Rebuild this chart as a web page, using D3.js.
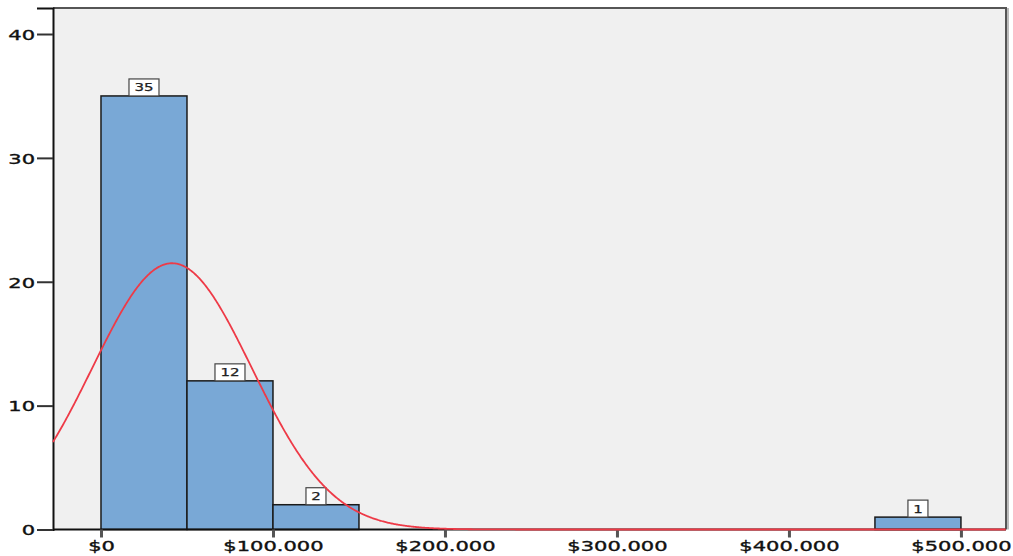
<!DOCTYPE html>
<html><head><meta charset="utf-8">
<script src="https://cdn.jsdelivr.net/npm/d3@7"></script>
<style>body{margin:0;background:#fff}svg{display:block}</style>
</head><body>
<svg id="c" width="1013" height="556"></svg>
<script>
// Data
const binStarts = [0, 50000, 100000, 450000];
const binCounts = [35, 12, 2, 1];
const binWidth = 50000;
const xTickValues = [0, 100000, 200000, 300000, 400000, 500000];
const yTickValues = [0, 10, 20, 30, 40];
const curveMean = 41300;
const curveSD = 46400;
const totalN = 50;

const svg = d3.select('#c');
const L = 53, R = 1006, T = 8, B = 529.5;
const x = d3.scaleLinear().domain([-27900, 526200]).range([L, R]);
const y = d3.scaleLinear().domain([0, 42.1]).range([B, T]);

const loc = d3.formatLocale({decimal: ",", thousands: ".", grouping: [3], currency: ["$", ""]});
const fmt = loc.format("$,.0f");

// plot background
svg.append('rect').attr('x', L).attr('y', T).attr('width', R - L).attr('height', B - T).attr('fill', '#f0f0f0');
// frame top and right
svg.append('line').attr('x1', L).attr('x2', R + 1).attr('y1', T).attr('y2', T).attr('stroke', '#555').attr('stroke-width', 2);
svg.append('line').attr('x1', R + 2).attr('x2', R + 2).attr('y1', T).attr('y2', B).attr('stroke', '#bbb').attr('stroke-width', 2);
svg.append('line').attr('x1', R).attr('x2', R).attr('y1', T).attr('y2', B).attr('stroke', '#555').attr('stroke-width', 2);

function stretch(sel, f) {
  sel.each(function () {
    const len = this.getComputedTextLength();
    d3.select(this).attr('textLength', len * f).attr('lengthAdjust', 'spacingAndGlyphs');
  });
}

// bars
const bars = binStarts.map((s, i) => ({x0: s, x1: s + binWidth, n: binCounts[i]}));
svg.append('g').selectAll('rect').data(bars).join('rect')
  .attr('x', d => x(d.x0)).attr('width', d => x(d.x1) - x(d.x0))
  .attr('y', d => y(d.n)).attr('height', d => y(0) - y(d.n))
  .attr('fill', '#79a8d6').attr('stroke', '#1a1a1a').attr('stroke-width', 1.5);

// bar labels
const lg = svg.append('g').selectAll('g').data(bars).join('g')
  .attr('transform', d => `translate(${(x(d.x0) + x(d.x1)) / 2},${y(d.n)})`);
lg.append('rect').attr('x', d => String(d.n).length > 1 ? -15 : -10).attr('width', d => String(d.n).length > 1 ? 30 : 20)
  .attr('y', -17).attr('height', 17).attr('fill', '#fff').attr('stroke', '#444').attr('stroke-width', 1.2);
lg.append('text').attr('y', -4.5).attr('text-anchor', 'middle')
  .attr('font-family', 'DejaVu Sans').attr('font-size', 10).attr('fill', '#222')
  .attr('stroke', '#222').attr('stroke-width', 0.25)
  .text(d => d.n).call(stretch, 1.5);

// normal curve
const xs = d3.range(-27900, 526200, 500);
const dens = v => totalN * binWidth / (curveSD * Math.sqrt(2 * Math.PI)) * Math.exp(-0.5 * Math.pow((v - curveMean) / curveSD, 2));
const line = d3.line().x(v => x(v)).y(v => y(dens(v)));

// axes
const yAxis = svg.append('g').attr('transform', `translate(${L},0)`)
  .call(d3.axisLeft(y).tickValues(yTickValues).tickSize(16).tickPadding(2).tickFormat(d3.format('d')));
yAxis.select('.domain').attr('stroke', '#111').attr('stroke-width', 2);
yAxis.selectAll('.tick line').attr('stroke', '#333').attr('stroke-width', 2);
yAxis.selectAll('.tick text').attr('font-family', 'DejaVu Sans').attr('font-size', 14).attr('fill', '#111')
  .attr('stroke', '#111').attr('stroke-width', 0.35)
  .attr('dy', '0.38em').call(stretch, 1.5);

const xAxis = svg.append('g').attr('transform', `translate(0,${B})`)
  .call(d3.axisBottom(x).tickValues(xTickValues).tickSize(8).tickPadding(4).tickFormat(fmt));
xAxis.select('.domain').attr('stroke', '#111').attr('stroke-width', 2).attr('d', `M${L},0H${R}`);
xAxis.selectAll('.tick line').attr('stroke', '#555').attr('stroke-width', 3);
xAxis.selectAll('.tick text').attr('font-family', 'DejaVu Sans').attr('font-size', 14).attr('fill', '#111')
  .attr('stroke', '#111').attr('stroke-width', 0.35)
  .call(stretch, 1.5);

svg.append('path').datum(xs).attr('d', line).attr('fill', 'none').attr('stroke', '#ee3a47').attr('stroke-width', 1.8);
</script>
</body></html>
